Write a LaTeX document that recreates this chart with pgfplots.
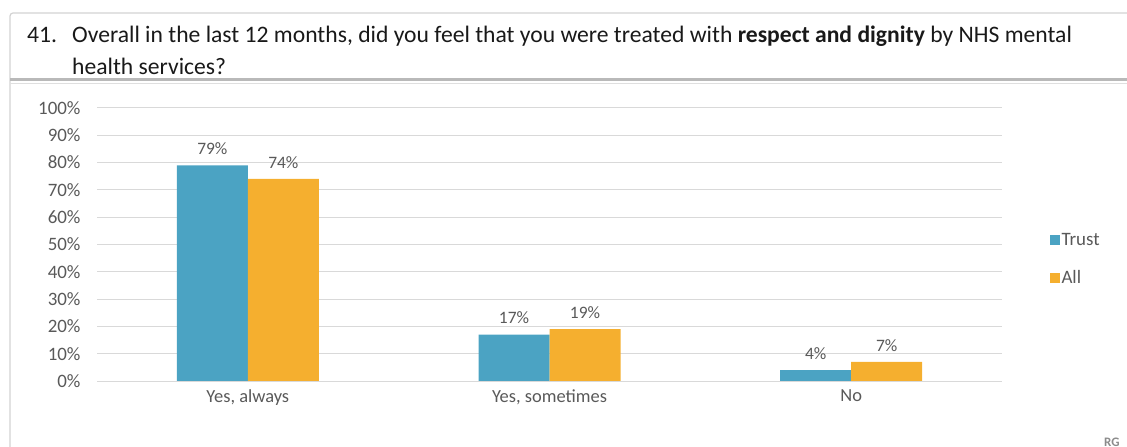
\documentclass[border=0pt]{standalone}
\usepackage{pgfplots}
\pgfplotsset{compat=1.18}
\usepackage{fontspec}
\setmainfont{Carlito}
\definecolor{trust}{HTML}{4BA3C3}
\definecolor{allc}{HTML}{F5AF2F}
\definecolor{txt}{HTML}{595959}
\definecolor{gridc}{HTML}{D9D9D9}
\begin{document}
\begin{tikzpicture}
\useasboundingbox (0bp,0bp) rectangle (1127bp,447bp);
\begin{scope}
\clip (0bp,0bp) rectangle (1127bp,447bp);
\draw[gray!35, line width=1.2bp, rounded corners=3bp] (10bp,-5bp) -- (10bp,434bp) -- (1140bp,434bp);
\fill[gray!55] (10bp,366bp) rectangle (1140bp,368.5bp);
\draw[gray!25, line width=0.8bp] (10bp,364bp) -- (1140bp,364bp);
\node[anchor=base west, inner sep=0pt, font=\fontsize{13}{15}\selectfont\bfseries, text=txt!70!white] at (1104bp,1bp) {RG};
\end{scope}
\node[anchor=base west, inner sep=0pt, font=\fontsize{23.7}{26}\selectfont, text=black!90] at (27bp,404bp) {41.};
\node[anchor=base west, inner sep=0pt, font=\fontsize{23.7}{26}\selectfont, text=black!90] at (72bp,404bp) {Overall in the last 12 months, did you feel that you were treated with \textbf{respect and dignity} by NHS mental};
\node[anchor=base west, inner sep=0pt, font=\fontsize{23.7}{26}\selectfont, text=black!90] at (72bp,372bp) {health services?};
\begin{axis}[
  at={(97bp,66bp)}, anchor=south west,
  scale only axis, width=905bp, height=273bp,
  xmin=-0.5, xmax=2.5, ymin=0, ymax=100,
  axis line style={draw=none},
  ybar=0pt, bar width=71bp,
  ymajorgrids, xmajorgrids=false, grid style={color=gridc, line width=1bp},
  ytick={0,10,...,100},
  yticklabel={\pgfmathprintnumber{\tick}\%},
  yticklabel style={font=\fontsize{19}{21}\selectfont, text=txt, xshift=-13bp},
  xtick={0,1,2}, xticklabels={{Yes, always},{Yes, sometimes},{No}},
  xticklabel style={font=\fontsize{18.5}{20}\selectfont, text=txt, yshift=-5bp},
  major tick length=0pt,
  /pgf/number format/assume math mode=true,
  nodes near coords={\pgfmathprintnumber{\pgfplotspointmeta}\%},
  nodes near coords style={font=\fontsize{17.5}{19}\selectfont, text=txt, anchor=south, yshift=7bp},
  legend style={at={(1.049,0.555)}, anchor=north west, draw=none, fill=none,
    font=\fontsize{19}{21}\selectfont, text=txt, row sep=19bp,
    legend cell align=left},
  legend image code/.code={\fill[#1] (-6bp,-5bp) rectangle (4bp,5bp);},
]
\addplot[fill=trust, draw=none] coordinates {(0,79) (1,17) (2,4)};
\addplot[fill=allc, draw=none] coordinates {(0,74) (1,19) (2,7)};
\legend{Trust, All}
\end{axis}
\end{tikzpicture}
\end{document}
